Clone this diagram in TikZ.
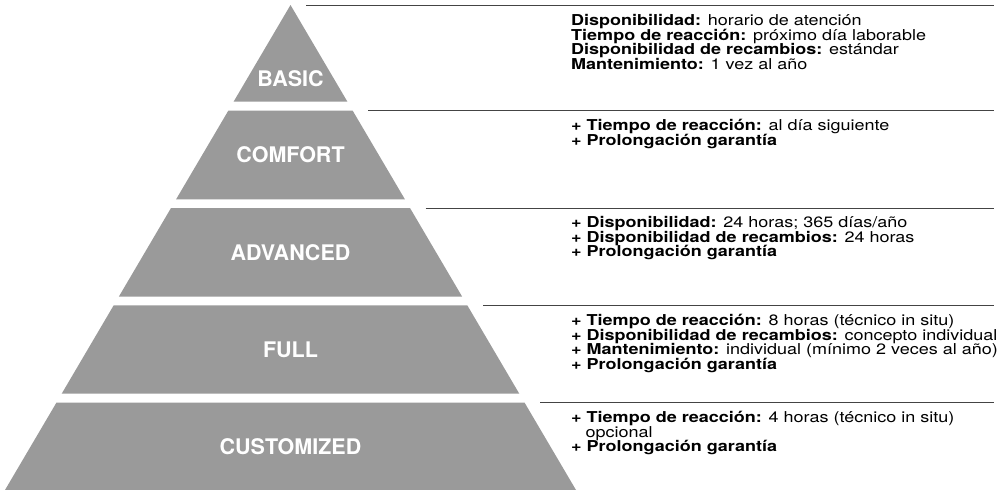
\documentclass[tikz,border=0pt]{standalone}
\usepackage{fontspec}
\setmainfont{TeX Gyre Heros}
\newfontfamily\infofamily[FakeStretch=1.2]{TeX Gyre Heros}
\definecolor{pyrgray}{HTML}{9A9A9A}
\definecolor{sepgray}{HTML}{444444}
\newcommand{\infofont}{\infofamily\fontsize{15}{14.6}\selectfont}
\newcommand{\tierfont}{\bfseries\fontsize{21.5}{24}\selectfont}

\begin{document}
\begin{tikzpicture}[x=1pt, y=-1pt,
    band/.style={fill=pyrgray},
    sepline/.style={draw=sepgray, line width=1pt},
    tier/.style={text=white, font=\tierfont, inner sep=0pt},
    info/.style={anchor=base west, align=left, inner sep=0pt, font=\infofont}]
    \useasboundingbox (0,0) rectangle (999,490);
    %piramide
    \fill[band] (290.5,5) -- (347.3,101.5) -- (233.7,101.5) -- cycle;
    \fill[band] (228.3,110.7) -- (352.7,110.7) -- (404.9,199.3) -- (176.1,199.3) -- cycle;
    \fill[band] (171,208) -- (410,208) -- (462.2,296.7) -- (118.8,296.7) -- cycle;
    \fill[band] (113.7,305.3) -- (467.3,305.3) -- (519.3,393.7) -- (61.7,393.7) -- cycle;
    \fill[band] (56.4,402.7) -- (524.6,402.7) -- (576,490) -- (5,490) -- cycle;

    %nombres de los niveles
    \node[tier] (basic) at (290.5,78.5) {BASIC};
    \node[tier] (comfort) at (290.5,155) {COMFORT};
    \node[tier] (advanced) at (290.5,252.3) {ADVANCED};
    \node[tier] (full) at (290.5,349.5) {FULL};
    \node[tier] (customized) at (290.5,446.3) {CUSTOMIZED};

    %lineas de separacion
    \draw[sepline] (306,5) -- (994,5);
    \draw[sepline] (368,110.7) -- (994,110.7);
    \draw[sepline] (425.5,208) -- (994,208);
    \draw[sepline] (483,305.3) -- (994,305.3);
    \draw[sepline] (540,402.7) -- (994,402.7);

    %prestaciones (base = ultima linea)
    \node[info] (basicinfo) at (571,69.2) {\textbf{Disponibilidad:} horario de atención\\
        \textbf{Tiempo de reacción:} próximo día laborable\\
        \textbf{Disponibilidad de recambios:} estándar\\
        \textbf{Mantenimiento:} 1 vez al año};
    \node[info] (comfortinfo) at (571,145) {\textbf{+ Tiempo de reacción:} al día siguiente\\
        \textbf{+ Prolongación garantía}};
    \node[info] (advancedinfo) at (571,256.6) {\textbf{+ Disponibilidad:} 24 horas; 365 días/año\\
        \textbf{+ Disponibilidad de recambios:} 24 horas\\
        \textbf{+ Prolongación garantía}};
    \node[info] (fullinfo) at (571,369.2) {\textbf{+ Tiempo de reacción:} 8 horas (técnico in situ)\\
        \textbf{+ Disponibilidad de recambios:} concepto individual\\
        \textbf{+ Mantenimiento:} individual (mínimo 2 veces al año)\\
        \textbf{+ Prolongación garantía}};
    \node[info] (customizedinfo) at (571,451.6) {\textbf{+ Tiempo de reacción:} 4 horas (técnico in situ)\\
        \hspace*{14.5pt}opcional\\
        \textbf{+ Prolongación garantía}};
\end{tikzpicture}
\end{document}
